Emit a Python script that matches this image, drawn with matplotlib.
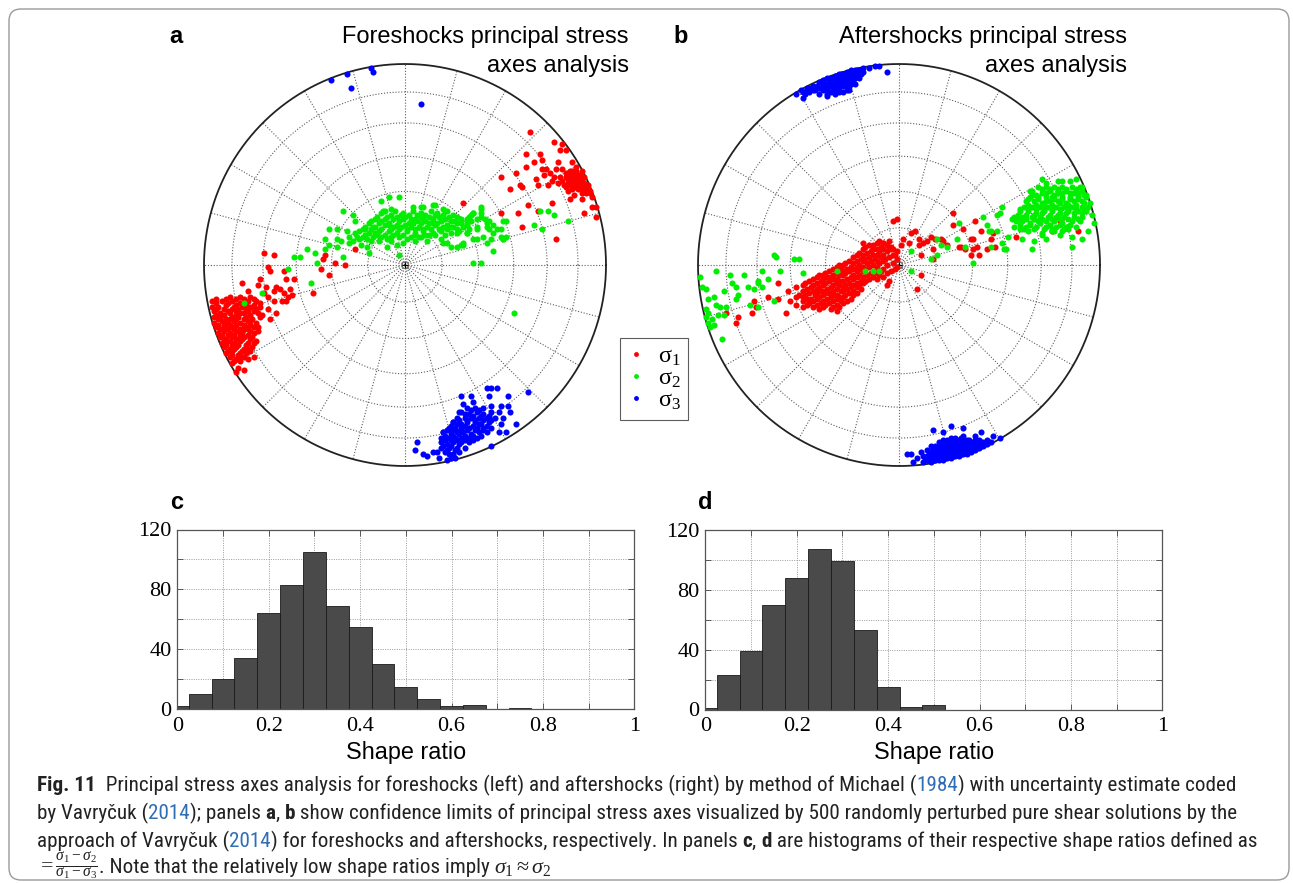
import numpy as np
import matplotlib
matplotlib.use("Agg")
import matplotlib.pyplot as plt
from matplotlib import font_manager
from matplotlib.lines import Line2D
from matplotlib.patches import FancyBboxPatch
from matplotlib.font_manager import FontProperties

# ---------------------------------------------------------------------------
# Principal stress axes, lower-hemisphere equal-area projection.
# Each pair is (east, north) of the projected axis in percent of the net radius.
# ---------------------------------------------------------------------------
FORE_SIGMA1 = [
    # south-west group
    (-70, 6), (-65, 5), (-68, -1), (-67, -3), (-72, -7), (-73, -10), (-69, -11), (-64, -11),
    (-60, -3), (-59, -7), (-55, -7), (-57, -12), (-56, -15), (-61, -18), (-65, -18), (-68, -22),
    (-67, -27), (-64, -24), (-59, -18), (-68, -16), (-78, -13), (-81, -9), (-62, -12), (-65, -13),
    (-58, -16), (-60, -14), (-70, -14), (-72, -19), (-75, -22), (-71, -25),
    (-87, -16), (-82, -16), (-77, -16),
    (-96, -18), (-91, -18), (-86, -18), (-82, -19), (-78, -18), (-74, -18),
    (-96, -21), (-93, -21), (-89, -20), (-85, -21), (-81, -21), (-77, -21), (-72, -21),
    (-95, -23), (-92, -24), (-88, -23), (-84, -23), (-82, -24), (-78, -23), (-75, -23),
    (-95, -26), (-92, -26), (-89, -27), (-86, -26), (-83, -26), (-79, -26), (-76, -27), (-72, -26),
    (-95, -29), (-91, -28), (-88, -29), (-85, -28), (-82, -29), (-78, -28), (-74, -29),
    (-94, -31), (-92, -32), (-89, -31), (-86, -31), (-82, -32), (-79, -31), (-75, -31),
    (-93, -34), (-90, -33), (-87, -34), (-84, -33), (-81, -34), (-77, -33), (-73, -33),
    (-92, -36), (-89, -37), (-86, -36), (-83, -37), (-80, -36), (-76, -36),
    (-91, -39), (-89, -38), (-85, -39), (-82, -38), (-78, -39), (-74, -38),
    (-90, -41), (-87, -42), (-84, -41), (-80, -42), (-76, -41),
    (-89, -44), (-86, -43), (-82, -44), (-77, -43),
    (-87, -46), (-84, -47), (-80, -46), (-75, -46),
    (-86, -49), (-82, -48), (-83, -51), (-80, -52), (-84, -53),
    (-94, -17), (-89, -17), (-84, -17), (-80, -17), (-75, -17),
    (-94, -19), (-88, -19), (-84, -20), (-79, -20), (-75, -20),
    (-94, -22), (-90, -22), (-86, -22), (-83, -22), (-79, -22), (-74, -22),
    (-94, -25), (-90, -25), (-87, -24), (-84, -25), (-80, -24), (-77, -25), (-73, -24),
    (-93, -27), (-90, -28), (-87, -27), (-84, -27), (-80, -27), (-77, -28),
    (-93, -30), (-90, -30), (-87, -30), (-84, -30), (-80, -30), (-77, -30), (-73, -31),
    (-90, -31), (-88, -32), (-85, -32), (-83, -33), (-80, -32), (-78, -32),
    (-91, -35), (-88, -35), (-85, -35), (-82, -35), (-78, -35), (-75, -34),
    (-90, -37), (-87, -38), (-84, -37), (-81, -37), (-77, -37),
    (-89, -40), (-86, -40), (-83, -40), (-79, -40), (-75, -39),
    (-88, -43), (-85, -42), (-81, -43), (-78, -42),
    (-86, -45), (-83, -45), (-79, -44), (-85, -48), (-82, -46), (-78, -47),
    # central stragglers
    (-40, 5), (-41, 3), (-25, 8), (-35, 1), (-30, 0), (-42, -2), (-38, -5), (-46, -14), (29, 31),
    # north-east group
    (62, 66), (74, 61), (78, 60), (77, 57), (80, 57), (60, 55), (67, 55), (64, 51), (68, 52),
    (60, 49), (68, 48), (70, 48), (76, 51), (75, 48), (78, 48), (83, 51), (85, 49), (55, 46),
    (48, 44), (69, 45), (72, 46), (74, 44), (77, 44), (80, 46), (83, 47), (84, 46), (86, 45),
    (88, 47), (81, 43), (83, 43), (87, 43), (88, 43), (89, 41), (57, 40), (58, 39), (65, 43),
    (66, 40), (71, 40), (73, 42), (76, 41), (79, 40), (83, 41), (85, 40), (91, 38), (92, 37),
    (90, 36), (88, 38), (93, 34), (81, 37), (82, 33), (84, 35), (88, 33), (52, 38), (73, 31),
    (66, 27), (61, 30), (56, 26), (48, 26), (58, 19), (89, 26), (93, 29), (95, 24), (95, 29),
    (75, 13), (82, 45), (84, 42), (86, 44), (87, 41), (89, 39), (86, 38), (83, 38), (90, 37),
    (92, 36), (88, 36), (81, 41),
    (84, 44), (86, 42), (88, 40), (82, 47), (85, 47), (87, 45), (89, 44), (91, 40), (86, 40),
    (84, 39), (80, 39), (78, 42), (80, 44), (82, 40),
]

FORE_SIGMA2 = [
    (-58, -2), (-71, -14), (-80, -19), (-47, -9), (-55, 4), (-52, 4), (-49, 8), (-45, 6),
    (-44, 1), (-40, 8), (-38, 10), (-34, 13), (-38, 18), (-31, 27), (-26, 25), (-25, 22),
    (-31, 4), (-40, 13), (-34, 18), (-29, 17), (-28, 11), (-24, 14), (-22, 10), (-19, 13),
    (-18, 6), (-20, 18), (-16, 19), (-12, 32), (-8, 34), (-3, 34), (-11, 27), (-7, 28),
    (-14, 15), (-9, 13), (-4, 10), (-3, 5), (1, 13), (7, 14), (12, 15), (18, 13), (21, 11),
    (26, 9), (29, 10), (34, 1), (38, 1), (44, 7), (49, 13), (54, -24), (41, 11), (36, 13),
    (31, 16), (44, 16), (48, 18), (50, 22), (38, 28), (34, 26), (31, 23), (40, 23), (44, 20),
    (-10, 27), (-5, 27), (-1, 26), (4, 27), (8, 26), (13, 27), (16, 26), (20, 27),
    (-14, 24), (-9, 24), (-4, 24), (0, 24), (3, 23), (8, 24), (12, 24), (17, 24), (22, 24), (26, 24),
    (-17, 22), (-12, 22), (-8, 21), (-3, 22), (2, 21), (6, 22), (10, 22), (14, 21), (18, 22),
    (23, 22), (28, 21), (33, 22),
    (-20, 19), (-15, 19), (-10, 20), (-6, 19), (-2, 19), (3, 19), (7, 19), (11, 19), (15, 20),
    (19, 19), (24, 19), (29, 19), (36, 19), (41, 19),
    (-23, 17), (-18, 16), (-13, 17), (-8, 17), (-4, 16), (1, 17), (5, 16), (9, 17), (14, 16),
    (18, 17), (23, 16), (27, 17),
    (-28, 14), (-21, 14), (-16, 14), (-12, 14), (-7, 14), (-3, 14), (3, 14), (8, 14),
    (-32, 12), (-26, 12), (-13, 12), (-1, 11), (11, 12), (-34, 9), (-19, 9), (-9, 9),
    (4, 29), (9, 29), (14, 30), (19, 28), (21, 27),
    (-12, 26), (-7, 25), (-2, 25), (2, 25), (6, 25), (10, 25), (15, 25), (19, 25),
    (-15, 23), (-10, 23), (-6, 23), (-1, 23), (5, 23), (9, 23), (14, 23), (20, 23), (25, 22),
    (-18, 21), (-13, 21), (-8, 20), (-4, 20), (0, 20), (4, 21), (8, 21), (12, 21), (16, 21),
    (21, 20), (26, 21), (31, 21),
    (-21, 18), (-17, 18), (-12, 18), (-7, 18), (-3, 18), (1, 18), (5, 18), (9, 18), (13, 18),
    (17, 18), (21, 18), (26, 18), (32, 18),
    (-25, 16), (-20, 15), (-15, 16), (-10, 15), (-6, 15), (-1, 15), (5, 15), (10, 15), (15, 15),
    (20, 15), (-23, 13), (-17, 12), (-7, 12), (5, 12),
    (38, 29), (38, 26), (34, 26), (32, 24), (36, 23), (41, 21), (42, 18), (46, 18), (48, 14),
    (50, 14), (49, 22), (67, 27), (71, 27), (74, 25), (64, 20), (68, 18), (81, 22), (23, 9),
    (28, 10), (19, 11), (15, 30), (8, 29),
    (19, 23), (24, 25), (28, 23), (31, 20), (23, 19), (18, 18), (26, 16), (31, 16), (36, 18),
    (39, 14), (43, 13), (49, 13), (29, 11), (34, 13), (42, 22), (38, 24), (33, 25),
]

FORE_SIGMA3 = [
    (-37, 92), (-29, 95), (-17, 98), (-16, 96), (-27, 88), (8, 80), (61, -63),
    (41, -61), (43, -61), (46, -61), (42, -65), (51, -65), (28, -65), (33, -65), (34, -68),
    (48, -70), (51, -70), (43, -70), (47, -73), (52, -73), (49, -76), (55, -79), (48, -79),
    (47, -83), (50, -83), (43, -90), (6, -88), (5, -92), (9, -94), (11, -95), (14, -93),
    (16, -93), (17, -96), (21, -97), (19, -83), (23, -82), (24, -78), (27, -73), (29, -69),
    (31, -71), (35, -71), (39, -71),
    (28, -73), (32, -74), (36, -73), (39, -74), (43, -73),
    (26, -76), (30, -76), (33, -76), (37, -76), (41, -76), (45, -76),
    (24, -78), (28, -79), (31, -78), (35, -78), (38, -79), (42, -78),
    (22, -81), (25, -81), (28, -81), (32, -81), (36, -81), (39, -81), (43, -81),
    (19, -83), (23, -84), (26, -83), (29, -83), (33, -84), (37, -83), (41, -83),
    (18, -86), (22, -86), (25, -86), (28, -86), (32, -86), (36, -86),
    (18, -88), (21, -89), (24, -88), (28, -88), (32, -88),
    (18, -91), (22, -91), (26, -91), (30, -91),
    (20, -93), (24, -94), (27, -93), (23, -96), (25, -96),
    (33, -72), (37, -72), (30, -74), (34, -75), (38, -75), (42, -75), (27, -77), (31, -77),
    (35, -77), (39, -77), (43, -77), (23, -80), (26, -79), (30, -80), (34, -80), (37, -79),
    (41, -80), (21, -82), (24, -82), (28, -82), (31, -82), (35, -82), (39, -82), (20, -85),
    (24, -85), (27, -84), (30, -85), (34, -85), (38, -85), (20, -87), (23, -87), (26, -87),
    (30, -87), (34, -87), (19, -90), (23, -90), (27, -89), (21, -92), (25, -92), (22, -94),
]

AFTER_SIGMA1 = [
    (-55, -13), (-54, -18), (-56, -24),
    (-51, -11), (-51, -16), (-51, -20),
    (-48, -10), (-48, -13), (-48, -16), (-48, -18), (-48, -21),
    (-45, -8), (-44, -11), (-45, -14), (-44, -17), (-45, -19),
    (-41, -6), (-41, -9), (-41, -12), (-41, -14), (-41, -17), (-41, -20),
    (-38, -5), (-38, -7), (-38, -10), (-38, -13), (-38, -15), (-38, -18), (-38, -21),
    (-35, -3), (-34, -6), (-35, -8), (-34, -11), (-35, -14), (-34, -16), (-35, -19), (-34, -22),
    (-31, -1), (-31, -4), (-31, -7), (-31, -9), (-31, -12), (-31, -15), (-31, -17), (-31, -20), (-31, -23),
    (-28, 0), (-28, -3), (-28, -5), (-28, -8), (-28, -11), (-28, -13), (-28, -16), (-28, -19),
    (-25, 2), (-24, -1), (-25, -3), (-24, -6), (-25, -9), (-24, -11), (-25, -14), (-24, -17),
    (-21, 5), (-21, 2), (-21, -1), (-21, -3), (-21, -6), (-21, -9), (-21, -11), (-21, -14),
    (-18, 8), (-18, 5), (-18, 2), (-18, -1), (-18, -3), (-18, -6), (-18, -9),
    (-15, 10), (-14, 7), (-15, 4), (-14, 2), (-15, -1), (-14, -4), (-15, -7),
    (-11, 11), (-11, 8), (-11, 5), (-11, 2), (-11, -1), (-11, -4), (-11, -7),
    (-8, 11), (-8, 8), (-8, 5), (-8, 2), (-8, -2), (-8, -6),
    (-5, 12), (-4, 9), (-5, 4), (-4, -3), (-1, 7), (-1, 3), (-1, -1),
    (-47, -9), (-46, -12), (-47, -15), (-46, -17), (-46, -20),
    (-43, -7), (-43, -10), (-43, -13), (-42, -15), (-43, -18), (-43, -21),
    (-40, -5), (-39, -8), (-40, -11), (-39, -13), (-40, -16), (-39, -19), (-40, -22),
    (-37, -4), (-36, -6), (-37, -9), (-36, -12), (-37, -14), (-36, -17), (-37, -20),
    (-33, -2), (-33, -5), (-33, -7), (-33, -10), (-33, -13), (-33, -15), (-33, -18), (-33, -21),
    (-30, 0), (-29, -2), (-30, -5), (-29, -8), (-30, -10), (-29, -13), (-30, -16), (-29, -18), (-30, -21),
    (-27, 1), (-26, -2), (-27, -4), (-26, -7), (-27, -10), (-26, -12), (-27, -15), (-26, -18),
    (-23, 4), (-23, 1), (-23, -2), (-23, -5), (-23, -7), (-23, -10), (-23, -13), (-23, -15),
    (-20, 6), (-19, 3), (-20, 0), (-19, -2), (-20, -5), (-19, -8), (-20, -10), (-19, -12),
    (-17, 9), (-16, 6), (-17, 3), (-16, 1), (-17, -2), (-16, -5), (-17, -8),
    (-13, 10), (-13, 8), (-13, 5), (-12, 3), (-13, 0), (-12, -3), (-13, -6),
    (-10, 12), (-9, 9), (-10, 7), (-9, 4), (-10, 1), (-9, -3), (-10, -5),
    (-6, 10), (-6, 7), (-7, 3), (-6, 0), (-6, -4), (-3, 8), (-2, 5), (-3, 1), (-2, -2),
    (-3, 22), (-1, 23), (-18, 11), (-8, 11), (6, 16), (8, 17), (10, 13), (12, 11), (14, 12),
    (16, 14), (17, 8), (11, 5), (10, 10), (5, 11), (2, 13), (1, 10), (-5, 8), (-3, 5),
    (27, 26), (27, 20), (32, 18), (22, 12), (31, 9), (38, 22), (41, 17), (37, 13), (39, 9),
    (44, 8), (48, 9), (36, 5), (11, -5), (9, -12), (-5, -8), (-6, -10), (-60, -9), (-60, -17),
    (-65, -16), (-72, -18), (-71, -21), (-80, -26), (-81, -29), (-86, -24), (-73, -24), (-50, -15),
    (36, 13), (46, 13), (47, 16), (58, 14), (89, 17), (18, 13), (21, 13), (24, 10), (30, 9),
    (33, 8), (37, 8), (40, 5), (17, 3), (76, 17), (80, 22),
]

AFTER_SIGMA2 = [
    (-62, 5), (-61, 4), (-52, 3), (-50, 3), (-59, -3), (-48, -4), (-68, -3), (-77, -5),
    (-84, -5), (-91, -3), (-99, -6), (-98, -11), (-96, -12), (-95, -17), (-92, -16), (-87, -13),
    (-83, -9), (-81, -11), (-75, -11), (-72, -12), (-70, -9), (-70, -8), (-68, -11), (-65, -7),
    (-81, -17), (-80, -15), (-74, -20), (-70, -21), (-86, -21), (-89, -21), (-91, -20), (-96, -22),
    (-95, -24), (-93, -27), (-92, -30), (-94, -31), (-88, -37), (-90, -25), (-87, -25), (-96, -26),
    (-95, -29), (-62, -18),
    (-31, -3), (-17, -3), (-13, -3), (-10, -3), (6, 7), (6, -3), (16, 3), (19, 5), (21, 10),
    (19, 13), (24, 9), (29, 13), (30, 21), (33, 9), (37, 1), (42, 24), (44, 20), (46, 17),
    (49, 25), (52, 8), (49, 17), (45, 17), (46, 9),
    (71, 43), (73, 41), (79, 42), (81, 42), (85, 42), (88, 43), (65, 37), (66, 35), (51, 29),
    (50, 26), (56, 23), (58, 22), (60, 18), (54, 14), (51, 11), (53, 8), (61, 13), (66, 8),
    (67, 12), (71, 15), (73, 13), (76, 18), (80, 15), (84, 18), (86, 14), (86, 9), (91, 13),
    (94, 17), (97, 21), (96, 25), (95, 31), (93, 35), (89, 36), (91, 39),
    (69, 39), (73, 39), (77, 39), (81, 39), (86, 39), (90, 39),
    (66, 37), (71, 36), (75, 37), (79, 36), (83, 37), (87, 36), (91, 37),
    (65, 34), (69, 34), (73, 34), (76, 34), (81, 34), (85, 34), (89, 34), (93, 34),
    (63, 32), (67, 32), (71, 31), (75, 32), (79, 32), (83, 31), (87, 32), (91, 32),
    (62, 29), (66, 29), (70, 29), (74, 29), (78, 29), (82, 29), (86, 29), (91, 29), (94, 29),
    (60, 27), (64, 27), (68, 26), (72, 27), (76, 27), (80, 26), (84, 27), (89, 27), (93, 27),
    (57, 24), (61, 24), (66, 24), (70, 24), (74, 24), (78, 24), (82, 24), (87, 24), (91, 24),
    (61, 22), (65, 21), (69, 22), (73, 22), (77, 22), (81, 21), (86, 22), (90, 22),
    (57, 19), (63, 19), (68, 19), (73, 19), (78, 19), (83, 19), (88, 19),
    (64, 17), (71, 16), (76, 17), (81, 17),
    (71, 38), (75, 38), (79, 38), (83, 38), (88, 38),
    (68, 35), (73, 36), (77, 35), (81, 36), (85, 36), (89, 35), (92, 35),
    (64, 33), (69, 33), (73, 32), (77, 33), (81, 33), (85, 33), (89, 33),
    (64, 30), (68, 30), (72, 30), (76, 30), (80, 31), (84, 30), (88, 30), (92, 31),
    (60, 28), (64, 28), (68, 28), (72, 28), (76, 28), (80, 28), (84, 28), (88, 28), (92, 28),
    (59, 25), (63, 25), (67, 25), (71, 26), (75, 25), (79, 25), (83, 26), (87, 26), (91, 26),
    (59, 23), (63, 23), (67, 23), (71, 23), (76, 23), (80, 23), (84, 23), (89, 23),
    (60, 20), (65, 20), (70, 21), (75, 20), (80, 20), (85, 20),
    (62, 18), (67, 18), (72, 18), (77, 17), (82, 18),
]

AFTER_SIGMA3 = [
    (-51, 85), (-49, 87), (-46, 88), (-43, 87), (-36, 85), (-25, 87), (-25, 89), (-10, 99),
    (-6, 96), (-15, 98), (-18, 98),
    (-48, 86), (-48, 83), (-46, 87), (-43, 88), (-43, 89), (-40, 91), (-40, 88), (-40, 85),
    (-38, 92), (-38, 90), (-38, 87), (-36, 93), (-36, 90), (-36, 87), (-36, 84), (-34, 93),
    (-34, 91), (-34, 89), (-34, 86), (-32, 94), (-32, 92), (-32, 90), (-32, 87), (-32, 85),
    (-30, 95), (-30, 93), (-30, 91), (-30, 88), (-30, 86), (-28, 95), (-28, 94), (-28, 91),
    (-28, 89), (-28, 86), (-26, 96), (-26, 94), (-26, 92), (-26, 89), (-26, 87), (-24, 97),
    (-24, 95), (-24, 92), (-24, 90), (-22, 97), (-22, 95), (-22, 93), (-22, 90), (-20, 97),
    (-20, 96), (-20, 93), (-18, 96), (-12, 99),
    (-47, 85), (-45, 86), (-44, 88), (-42, 87), (-41, 89), (-39, 91), (-39, 88), (-37, 90),
    (-37, 88), (-35, 92), (-35, 89), (-33, 93), (-33, 90), (-33, 88), (-31, 94), (-31, 91),
    (-31, 89), (-29, 95), (-29, 92), (-29, 90), (-27, 95), (-27, 93), (-27, 90), (-25, 96),
    (-25, 93), (-25, 91), (-23, 96), (-23, 94), (-23, 91), (-21, 97), (-21, 94), (-19, 97),
    (-19, 95),
    (4, -94), (6, -94), (9, -96), (11, -93), (7, -98), (17, -82), (26, -80), (22, -83),
    (32, -81), (41, -83), (47, -85), (50, -86),
    (12, -98), (12, -95), (14, -97), (14, -95), (14, -92), (16, -98), (16, -95), (16, -93),
    (16, -90), (18, -97), (18, -95), (18, -92), (18, -90), (20, -97), (20, -95), (20, -93),
    (20, -90), (20, -88), (22, -97), (22, -95), (22, -92), (22, -90), (22, -87), (24, -96),
    (24, -94), (24, -92), (24, -89), (24, -87), (26, -96), (26, -94), (26, -91), (26, -89),
    (26, -86), (28, -95), (28, -93), (28, -91), (28, -88), (28, -86), (30, -95), (30, -93),
    (30, -90), (30, -88), (32, -94), (32, -92), (32, -90), (32, -87), (32, -85), (34, -94),
    (34, -92), (34, -89), (34, -87), (36, -93), (36, -91), (36, -88), (38, -92), (38, -90),
    (38, -87), (38, -85), (40, -91), (40, -89), (40, -87), (42, -90), (42, -88), (44, -89),
    (44, -87), (46, -88),
    (13, -96), (15, -96), (15, -93), (17, -97), (17, -94), (17, -91), (19, -96), (19, -93),
    (19, -91), (21, -96), (21, -94), (21, -91), (21, -89), (23, -96), (23, -93), (23, -91),
    (23, -88), (25, -95), (25, -93), (25, -90), (25, -88), (27, -95), (27, -92), (27, -90),
    (27, -87), (29, -94), (29, -92), (29, -89), (29, -87), (31, -94), (31, -91), (31, -89),
    (31, -86), (33, -93), (33, -91), (33, -88), (35, -92), (35, -90), (35, -87), (37, -92),
    (37, -89), (39, -91), (39, -88), (41, -90), (41, -88), (43, -89), (45, -88),
]

# Shape-ratio histograms (bin centres and counts of the 500 solutions)
SHAPE_BINS = [0.00, 0.05, 0.10, 0.15, 0.20, 0.25, 0.30, 0.35, 0.40, 0.45, 0.50,
              0.55, 0.60, 0.65, 0.70, 0.75, 0.80, 0.85, 0.90, 0.95, 1.00]
FORE_COUNTS = [2, 10, 20, 34, 64, 83, 105, 69, 55, 30, 15, 7, 2, 3, 0, 1, 0, 0, 0, 0, 0]
AFTER_COUNTS = [1, 23, 39, 70, 88, 107, 99, 53, 15, 2, 3, 0, 0, 0, 0, 0, 0, 0, 0, 0, 0]

X_TICKS = [0, 0.1, 0.2, 0.3, 0.4, 0.5, 0.6, 0.7, 0.8, 0.9, 1.0]
X_TICK_LABELS = ["0", "", "0.2", "", "0.4", "", "0.6", "", "0.8", "", "1"]
Y_TICKS = [0, 20, 40, 60, 80, 100, 120]
Y_TICK_LABELS = ["0", "", "40", "", "80", "", "120"]

PLUNGE_CIRCLES = [15, 30, 45, 60, 75]
SIGMA_COLORS = ["#ff0000", "#00ee00", "#0000ff"]

# ---------------------------------------------------------------------------
W, H, DPI = 1293, 883, 100
plt.rcParams["mathtext.fontset"] = "custom"
plt.rcParams["mathtext.rm"] = "Liberation Serif"
plt.rcParams["mathtext.it"] = "Liberation Serif:italic"
plt.rcParams["mathtext.bf"] = "Liberation Serif:bold"

SANS = "Liberation Sans"
SERIF = "Liberation Serif"

fig = plt.figure(figsize=(W / DPI, H / DPI), dpi=DPI)
fig.patch.set_facecolor("white")


def px_axes(left, top, width, height):
    return fig.add_axes([left / W, 1 - (top + height) / H, width / W, height / H])


def px_text(x, y, s, **kw):
    return fig.text(x / W, 1 - y / H, s, **kw)


GRID_STYLE = dict(color="#5e5e5e", lw=0.8, ls=(0, (1.0, 1.6)), zorder=1)


def stereonet(cx, cy, radius, groups):
    pad = 1.05
    ax = px_axes(cx - pad * radius, cy - pad * radius, 2 * pad * radius, 2 * pad * radius)
    ax.set_xlim(-pad, pad)
    ax.set_ylim(-pad, pad)
    ax.axis("off")
    t = np.linspace(0, 2 * np.pi, 721)
    for p in PLUNGE_CIRCLES:
        r = np.sqrt(2) * np.sin(np.radians(90 - p) / 2)
        ax.plot(r * np.cos(t), r * np.sin(t), **GRID_STYLE)
    for az in range(0, 360, 15):
        a = np.radians(az)
        ax.plot([0, np.sin(a)], [0, np.cos(a)], **GRID_STYLE)
    ax.plot(np.cos(t), np.sin(t), color="#222222", lw=1.3, zorder=2)
    ax.plot(0, 0, marker="s", ms=5, mfc="none", mec="#777777", mew=0.8, zorder=2)
    ax.plot(0, 0, marker="+", ms=4, color="black", mew=0.8, zorder=2)
    for pts, col in zip(groups, SIGMA_COLORS):
        arr = np.asarray(pts, dtype=float) / 100.0
        ax.plot(arr[:, 0], arr[:, 1], "o", ms=4.4, color=col, mec="none",
                clip_on=False, zorder=3)
    return ax


stereonet(405, 265, 201, [FORE_SIGMA1, FORE_SIGMA2, FORE_SIGMA3])
stereonet(899, 265, 201, [AFTER_SIGMA1, AFTER_SIGMA2, AFTER_SIGMA3])

# Panel letters and titles
title_kw = dict(family=SANS, fontsize=17, va="baseline", color="black")
px_text(176, 43, "a", ha="center", weight="bold", **title_kw)
px_text(629, 43, "Foreshocks principal stress", ha="right", **title_kw)
px_text(629, 72, "axes analysis", ha="right", **title_kw)
px_text(681, 43, "b", ha="center", weight="bold", **title_kw)
px_text(1127, 43, "Aftershocks principal stress", ha="right", **title_kw)
px_text(1127, 72, "axes analysis", ha="right", **title_kw)

# Legend
handles = [Line2D([], [], ls="none", marker="o", ms=3.5, color=c, mec="none")
           for c in SIGMA_COLORS]
leg = fig.legend(handles, ["σ$_1$", "σ$_2$", "σ$_3$"], loc="upper left",
                 bbox_to_anchor=(620 / W, 1 - 338 / H), frameon=True, fancybox=False,
                 prop=FontProperties(family=SERIF, size=17.5), handlelength=0.7,
                 handletextpad=0.55, borderpad=0.3, labelspacing=0.0, borderaxespad=0.0)
leg.get_frame().set_edgecolor("#333333")
leg.get_frame().set_linewidth(0.8)


def histogram(left, top, counts, letter):
    ax = px_axes(left, top, 457, 179.5)
    ax.bar(SHAPE_BINS, counts, width=0.05, color="#4a4a4a", edgecolor="#1a1a1a",
           linewidth=0.6, zorder=2)
    ax.set_xlim(0, 1)
    ax.set_ylim(0, 120)
    ax.set_xticks(X_TICKS)
    ax.set_xticklabels(X_TICK_LABELS)
    ax.set_yticks(Y_TICKS)
    ax.set_yticklabels(Y_TICK_LABELS)
    ax.grid(True, color="#9a9a9a", lw=0.7, ls=(0, (1.0, 1.4)), zorder=0)
    ax.set_axisbelow(True)
    ax.tick_params(direction="in", length=4, width=0.6, color="#444444",
                   top=True, right=True, labelsize=16)
    ax.tick_params(axis="x", pad=5.5)
    ax.tick_params(axis="y", pad=4)
    for lab in ax.get_xticklabels() + ax.get_yticklabels():
        lab.set_family(SERIF)
    for sp in ax.spines.values():
        sp.set_color("#555555")
        sp.set_linewidth(0.9)
    px_text(left + 229, 759, "Shape ratio", family=SANS, fontsize=16.8, ha="center",
            va="baseline")
    px_text(left - 0.5, 509, letter, family=SANS, fontsize=17, weight="bold",
            ha="center", va="baseline")
    return ax


histogram(177.3, 529.5, FORE_COUNTS, "c")
histogram(705.3, 530, AFTER_COUNTS, "d")

# Caption
names = {f.name for f in font_manager.fontManager.ttflist}
cap_family, cap_stretch = None, "normal"
for cand in ["Liberation Sans Narrow", "Roboto Condensed", "Open Sans Condensed",
             "Noto Sans Condensed"]:
    if cand in names:
        cap_family = cand
        break
if cap_family is None:
    if any(f.name == "DejaVu Sans" and str(f.stretch) in ("condensed", "semi-condensed")
           for f in font_manager.fontManager.ttflist):
        cap_family, cap_stretch = "DejaVu Sans", "condensed"
    else:
        cap_family = "Roboto"

LINK = "#2f6db5"
TXT = "#222222"
caption_lines = [
    [("Fig. 11", "b"), ("  Principal stress axes analysis for foreshocks (left) and aftershocks "
                        "(right) by method of Michael (", "n"), ("1984", "l"),
     (") with uncertainty estimate coded", "n")],
    [("by Vavryčuk (", "n"), ("2014", "l"), ("); panels ", "n"), ("a", "b"), (", ", "n"),
     ("b", "b"), (" show confidence limits of principal stress axes visualized by 500 randomly "
                  "perturbed pure shear solutions by the", "n")],
    [("approach of Vavryčuk (", "n"), ("2014", "l"), (") for foreshocks and aftershocks, "
                                                     "respectively. In panels ", "n"),
     ("c", "b"), (", ", "n"), ("d", "b"),
     (" are histograms of their respective shape ratios defined as", "n")],
    [(r"$=\frac{\sigma_1-\sigma_2}{\sigma_1-\sigma_3}$", "m"),
     (". Note that the relatively low shape ratios imply ", "n"),
     (r"$\sigma_1\approx\sigma_2$", "m")],
]

renderer = fig.canvas.get_renderer()


def seg_props(style, size):
    kw = dict(family=cap_family, stretch=cap_stretch, fontsize=size, color=TXT)
    if style == "b":
        kw["weight"] = "bold"
    elif style == "l":
        kw["color"] = LINK
    elif style == "m":
        kw["fontsize"] = size * 1.05
    return kw


def seg_width(text, props):
    t1 = fig.text(0, 0, "|" + text + "|", **props)
    t2 = fig.text(0, 0, "||", **props)
    w = t1.get_window_extent(renderer).width - t2.get_window_extent(renderer).width
    t1.remove()
    t2.remove()
    return w


def line_width(line, size):
    return sum(seg_width(s, seg_props(st, size)) for s, st in line)


base = 10.0
cap_size = base * 1191.0 / line_width(caption_lines[0], base)
baselines = [791, 819, 847, 873]
for line, yb in zip(caption_lines, baselines):
    x = 37.0
    for s, st in line:
        props = seg_props(st, cap_size)
        px_text(x, yb, s, ha="left", va="baseline", **props)
        x += seg_width(s, props)

# Rounded frame around the figure
frame = FancyBboxPatch((9 / DPI, 3 / DPI), 1280 / DPI, 871 / DPI,
                       boxstyle="round,pad=0,rounding_size=0.12",
                       transform=fig.dpi_scale_trans, fill=False,
                       edgecolor="#9a9a9a", linewidth=1.0)
fig.add_artist(frame)

fig.savefig("out.png", dpi=DPI, facecolor="white")
